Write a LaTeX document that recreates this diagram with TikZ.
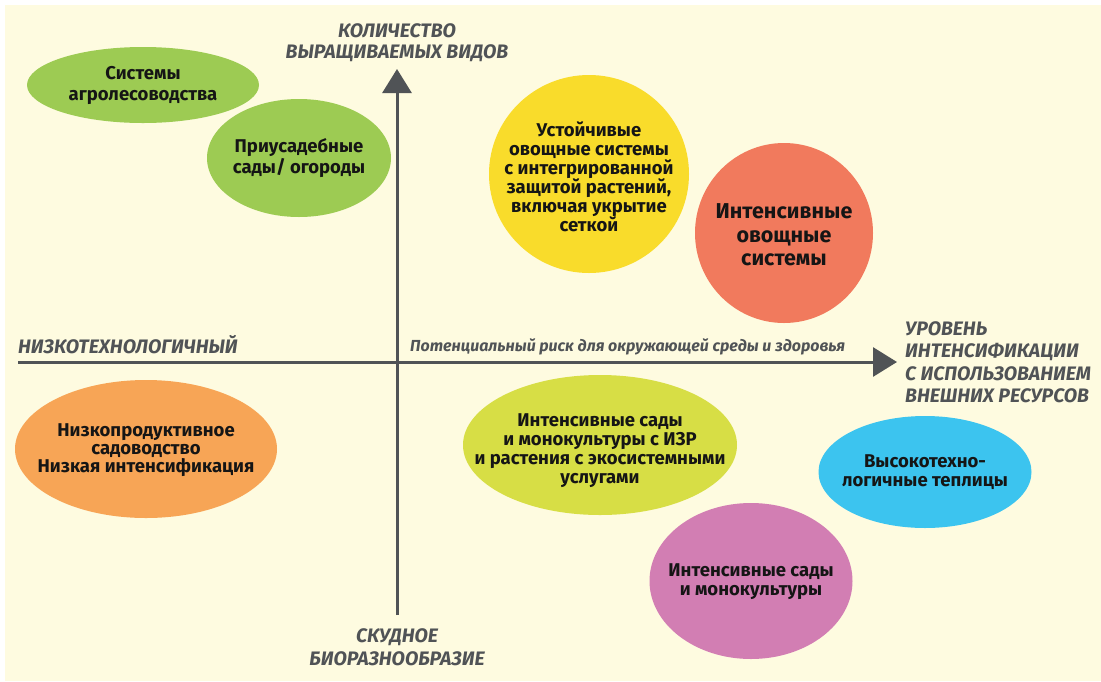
\documentclass[tikz,border=0pt]{standalone}
\usepackage{fontspec}
\setmainfont{Fira Sans}
\usetikzlibrary{shapes.geometric,arrows.meta}
\definecolor{bgcream}{HTML}{FEFBE0}
\definecolor{axisgray}{HTML}{505356}
\definecolor{cgreen}{HTML}{9DCB53}
\definecolor{cyellow}{HTML}{F9DC2B}
\definecolor{cred}{HTML}{F17A5D}
\definecolor{corange}{HTML}{F7A556}
\definecolor{cyg}{HTML}{D7DE45}
\definecolor{cblue}{HTML}{3CC4EF}
\definecolor{cpink}{HTML}{D27EB3}
\definecolor{txt}{HTML}{151515}
\tikzset{
  bubble/.style={ellipse, inner sep=0pt, outer sep=0pt},
  btext/.style={inner sep=0pt, align=center, text=txt,
    font=\bfseries\fontsize{18.5}{19}\selectfont},
  axis/.style={draw=axisgray, line width=3pt,
    -{Triangle[length=24pt,width=29pt]}},
  axlabel/.style={text=axisgray, align=center, inner sep=0pt,
    font=\bfseries\itshape\fontsize{19.5}{21}\selectfont},
}
\begin{document}
\begin{tikzpicture}[x=1pt,y=-1pt]
\useasboundingbox (0,0) rectangle (1101,681);
\fill[white] (0,0) rectangle (1101,681);
\fill[bgcream] (5,5) rectangle (1101,681);

% axes
\coordinate (xl) at (18,362);
\coordinate (xr) at (897,362);
\coordinate (yb) at (397,615);
\coordinate (yt) at (397,69);
\draw[axis] (xl) -- (xr);
\draw[axis] (yb) -- (yt);

% axis labels
\node[axlabel] (ytop) at (397,43) {КОЛИЧЕСТВО\\ВЫРАЩИВАЕМЫХ ВИДОВ};
\node[axlabel, font=\bfseries\itshape\fontsize{19.5}{23}\selectfont] (ybot) at (397,647) {СКУДНОЕ\\БИОРАЗНООБРАЗИЕ};
\node[axlabel, anchor=west] (xleft) at (18,345) {НИЗКОТЕХНОЛОГИЧНЫЙ};
\node[axlabel, align=left, anchor=west, font=\bfseries\itshape\fontsize{19.5}{22.5}\selectfont] (xright) at (905,362) {УРОВЕНЬ\\ИНТЕНСИФИКАЦИИ\\С ИСПОЛЬЗОВАНИЕМ\\ВНЕШНИХ РЕСУРСОВ};
\node[text=axisgray, inner sep=0pt, anchor=west, font=\bfseries\itshape\fontsize{16}{17}\selectfont] (risk) at (410,347) {Потенциальный риск для окружающей среды и здоровья};

% bubbles
\node[bubble, fill=cgreen, minimum width=232pt, minimum height=76pt] (agro) at (143,85) {};
\node[btext, font=\bfseries\fontsize{18.5}{21}\selectfont] (agro-t) at (agro.center) {Системы\\агролесоводства};

\node[bubble, fill=cgreen, minimum width=184pt, minimum height=118pt] (usad) at (299,158) {};
\node[btext] (usad-t) at (usad.center) {Приусадебные\\сады/ огороды};

\node[bubble, fill=cyellow, minimum width=200pt, minimum height=198pt] (ustoi) at (589,174) {};
\node[btext] (ustoi-t) at (589,177) {Устойчивые\\овощные системы\\с интегрированной\\защитой растений,\\включая укрытие\\сеткой};

\node[bubble, fill=cred, minimum width=178pt, minimum height=180pt] (intov) at (784,233) {};
\node[btext, font=\bfseries\fontsize{21.5}{23.5}\selectfont] (intov-t) at (784,235) {Интенсивные\\овощные\\системы};

\node[bubble, fill=corange, minimum width=262pt, minimum height=138pt] (nizk) at (146,449) {};
\node[btext, font=\bfseries\fontsize{18.5}{18}\selectfont] (nizk-t) at (146,450) {Низкопродуктивное\\садоводство\\Низкая интенсификация};

\node[bubble, fill=cyg, minimum width=274pt, minimum height=140pt] (izr) at (600,445) {};
\node[btext] (izr-t) at (600,451) {Интенсивные сады\\и монокультуры с ИЗР\\и растения с экосистемными\\услугами};

\node[bubble, fill=cblue, minimum width=213pt, minimum height=112pt] (teplo) at (925,472) {};
\node[btext] (teplo-t) at (925,472) {Высокотехно-\\логичные теплицы};

\node[bubble, fill=cpink, minimum width=203pt, minimum height=156pt] (mono) at (751,581) {};
\node[btext] (mono-t) at (751,582) {Интенсивные сады\\и монокультуры};
\end{tikzpicture}
\end{document}
